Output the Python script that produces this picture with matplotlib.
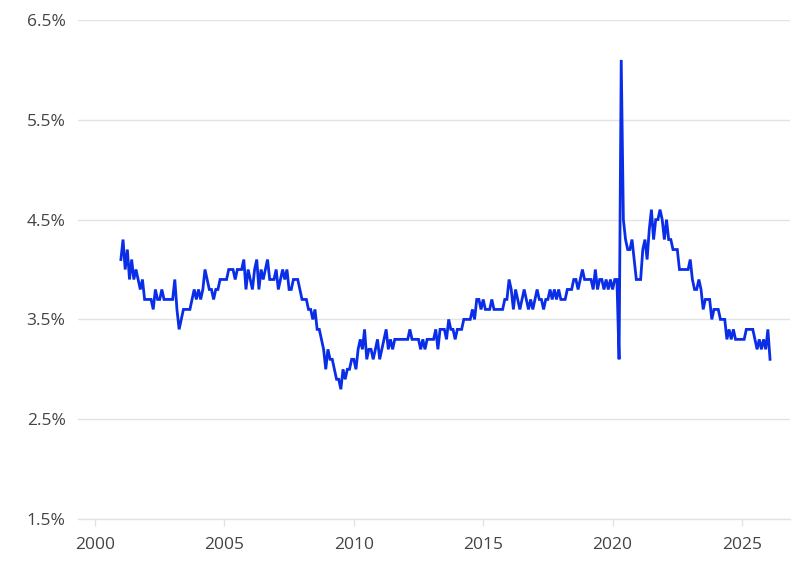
import matplotlib
matplotlib.use("Agg")
import matplotlib.pyplot as plt
import numpy as np

# Monthly series, starting January 2001
start_year = 2001
start_month = 1
values = [
    4.1, 4.3, 4.0, 4.2, 3.9, 4.1, 3.9, 4.0, 3.9, 3.8, 3.9, 3.7,
    3.7, 3.7, 3.7, 3.6, 3.8, 3.7, 3.7, 3.8, 3.7, 3.7, 3.7, 3.7,
    3.7, 3.9, 3.6, 3.4, 3.5, 3.6, 3.6, 3.6, 3.6, 3.7, 3.8, 3.7,
    3.8, 3.7, 3.8, 4.0, 3.9, 3.8, 3.8, 3.7, 3.8, 3.8, 3.9, 3.9,
    3.9, 3.9, 4.0, 4.0, 4.0, 3.9, 4.0, 4.0, 4.0, 4.1, 3.8, 4.0,
    3.9, 3.8, 4.0, 4.1, 3.8, 4.0, 3.9, 4.0, 4.1, 3.9, 3.9, 3.9,
    4.0, 3.8, 3.9, 4.0, 3.9, 4.0, 3.8, 3.8, 3.9, 3.9, 3.9, 3.8,
    3.7, 3.7, 3.7, 3.6, 3.6, 3.5, 3.6, 3.4, 3.4, 3.3, 3.2, 3.0,
    3.2, 3.1, 3.1, 3.0, 2.9, 2.9, 2.8, 3.0, 2.9, 3.0, 3.0, 3.1,
    3.1, 3.0, 3.2, 3.3, 3.2, 3.4, 3.1, 3.2, 3.2, 3.1, 3.2, 3.3,
    3.1, 3.2, 3.3, 3.4, 3.2, 3.3, 3.2, 3.3, 3.3, 3.3, 3.3, 3.3,
    3.3, 3.3, 3.4, 3.3, 3.3, 3.3, 3.3, 3.2, 3.3, 3.2, 3.3, 3.3,
    3.3, 3.3, 3.4, 3.2, 3.4, 3.4, 3.4, 3.3, 3.5, 3.4, 3.4, 3.3,
    3.4, 3.4, 3.4, 3.5, 3.5, 3.5, 3.5, 3.6, 3.5, 3.7, 3.7, 3.6,
    3.7, 3.6, 3.6, 3.6, 3.7, 3.6, 3.6, 3.6, 3.6, 3.6, 3.7, 3.7,
    3.9, 3.8, 3.6, 3.8, 3.7, 3.6, 3.7, 3.8, 3.7, 3.6, 3.7, 3.6,
    3.7, 3.8, 3.7, 3.7, 3.6, 3.7, 3.7, 3.8, 3.7, 3.8, 3.7, 3.8,
    3.7, 3.7, 3.7, 3.8, 3.8, 3.8, 3.9, 3.9, 3.8, 3.9, 4.0, 3.9,
    3.9, 3.9, 3.9, 3.8, 4.0, 3.8, 3.9, 3.9, 3.8, 3.9, 3.8, 3.9,
    3.8, 3.9, 3.9, 3.1, 6.1, 4.5, 4.3, 4.2, 4.2, 4.3, 4.1, 3.9,
    3.9, 3.9, 4.2, 4.3, 4.1, 4.4, 4.6, 4.3, 4.5, 4.5, 4.6, 4.5,
    4.3, 4.5, 4.3, 4.3, 4.2, 4.2, 4.2, 4.0, 4.0, 4.0, 4.0, 4.0,
    4.1, 3.9, 3.8, 3.8, 3.9, 3.8, 3.6, 3.7, 3.7, 3.7, 3.5, 3.6,
    3.6, 3.6, 3.5, 3.5, 3.5, 3.3, 3.4, 3.3, 3.4, 3.3, 3.3, 3.3,
    3.3, 3.3, 3.4, 3.4, 3.4, 3.4, 3.3, 3.2, 3.3, 3.2, 3.3, 3.2,
    3.4, 3.1,
]

y_ticks = [1.5, 2.5, 3.5, 4.5, 5.5, 6.5]
y_tick_labels = ["1.5%", "2.5%", "3.5%", "4.5%", "5.5%", "6.5%"]
x_ticks = [2000, 2005, 2010, 2015, 2020, 2025]
x_tick_labels = ["2000", "2005", "2010", "2015", "2020", "2025"]

dates = start_year + (start_month - 1) / 12 + np.arange(len(values)) / 12

plt.rcParams["font.family"] = ["Open Sans", "DejaVu Sans"]

fig = plt.figure(figsize=(8.0, 5.86), dpi=100)
ax = fig.add_axes([78 / 800, 1 - 519 / 586, (790 - 78) / 800, (519 - 20) / 586])

ax.plot(dates, values, color="#0a2de8", linewidth=2.0, solid_joinstyle="miter")

ax.set_ylim(1.5, 6.5)
ax.set_xlim(2000 - 17 / 25.88, 2025 + 48 / 25.88)

ax.set_yticks(y_ticks)
ax.set_yticklabels(y_tick_labels)
ax.set_xticks(x_ticks)
ax.set_xticklabels(x_tick_labels)

grid_color = "#e3e3e3"
ax.grid(axis="y", color=grid_color, linewidth=1.0)
ax.set_axisbelow(True)
for side in ["top", "right", "left"]:
    ax.spines[side].set_visible(False)
ax.spines["bottom"].set_color(grid_color)
ax.spines["bottom"].set_linewidth(1.0)

ax.tick_params(axis="y", length=0, pad=9, labelsize=12.5, labelcolor="#444444")
ax.tick_params(axis="x", length=5, width=1, color=grid_color, pad=8,
               labelsize=12.5, labelcolor="#444444")

fig.savefig("out.png", dpi=100, facecolor="white")
